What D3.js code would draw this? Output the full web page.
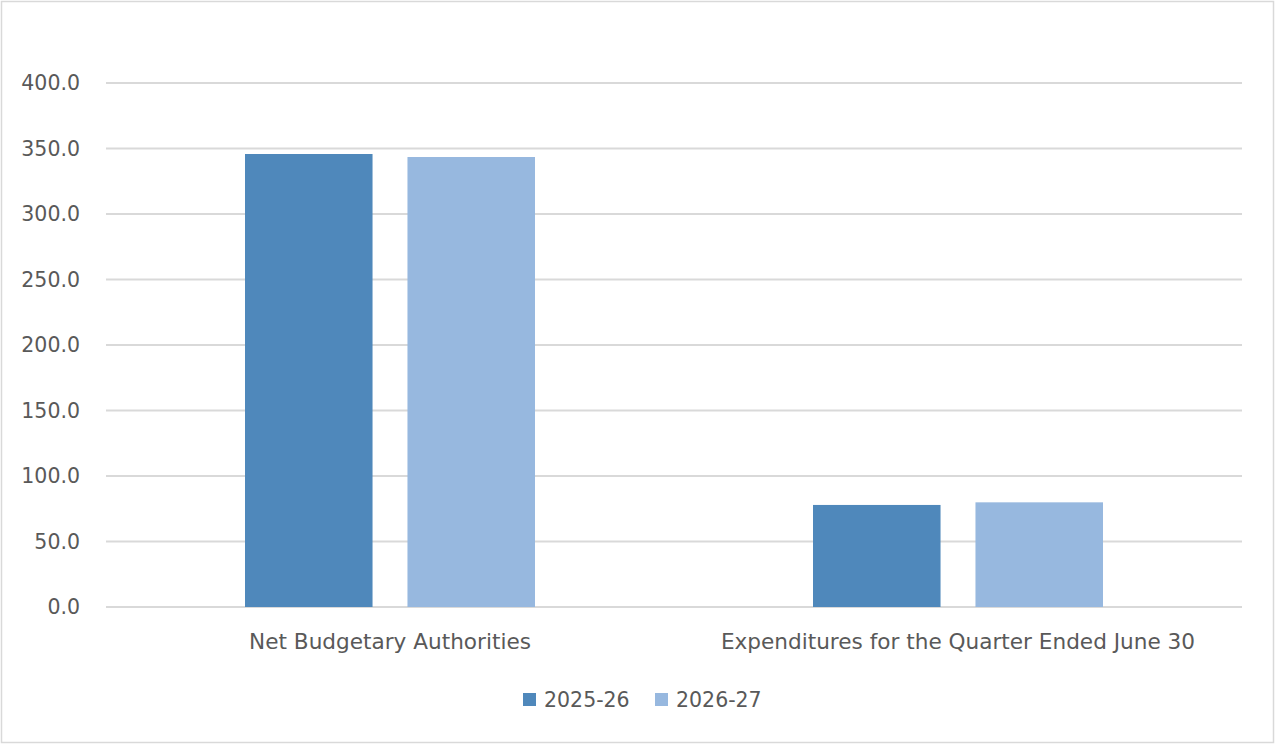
<!DOCTYPE html>
<html>
<head>
<meta charset="utf-8">
<script src="https://cdn.jsdelivr.net/npm/d3@7"></script>
<style>
  body { margin: 0; background: #fff; }
  svg text { font-family: "DejaVu Sans", sans-serif; fill: #595959; }
</style>
</head>
<body>
<svg width="1276" height="744"></svg>
<script>
// chart data
var categories = ["Net Budgetary Authorities", "Expenditures for the Quarter Ended June 30"];
var seriesNames = ["2025-26", "2026-27"];
var values2025 = [345.8, 77.9];
var values2026 = [343.5, 79.9];
var yTicks = [0, 50, 100, 150, 200, 250, 300, 350, 400];

var svg = d3.select("svg"),
    width = +svg.attr("width"),
    height = +svg.attr("height");

var colors = ["#4f88bb", "#97b8df"];
var margin = { left: 106, right: 34, top: 83, bottom: 137 };

// chart border
svg.append("rect")
   .attr("x", 1.5).attr("y", 1.5)
   .attr("width", width - 4).attr("height", height - 3)
   .attr("fill", "#fff")
   .attr("stroke", "#d9d9d9")
   .attr("stroke-width", 1.5);

var x0 = d3.scaleBand()
           .domain(categories)
           .range([margin.left, width - margin.right]);

var x1 = d3.scaleBand()
           .domain(seriesNames)
           .range([139, x0.bandwidth() - 139])
           .paddingInner(0.215);

var y = d3.scaleLinear()
          .domain([0, 400])
          .range([height - margin.bottom, margin.top]);

// gridlines
svg.append("g")
   .selectAll("line")
   .data(yTicks)
   .enter().append("line")
   .attr("x1", margin.left)
   .attr("x2", width - margin.right)
   .attr("y1", function(d) { return y(d); })
   .attr("y2", function(d) { return y(d); })
   .attr("stroke", "#d9d9d9")
   .attr("stroke-width", 2);

// y labels
svg.append("g")
   .selectAll("text")
   .data(yTicks)
   .enter().append("text")
   .attr("x", 80)
   .attr("y", function(d) { return y(d); })
   .attr("dy", "0.36em")
   .attr("text-anchor", "end")
   .style("font-size", "20.5px")
   .text(function(d) { return d3.format(".1f")(d); });

// bars
var rows = categories.map(function(c, i) {
  return { cat: c, vals: [values2025[i], values2026[i]] };
});

var group = svg.append("g")
   .selectAll("g")
   .data(rows)
   .enter().append("g")
   .attr("transform", function(d) { return "translate(" + x0(d.cat) + ",0)"; });

group.selectAll("rect")
     .data(function(d) { return d.vals.map(function(v, j) { return { name: seriesNames[j], value: v, j: j }; }); })
     .enter().append("rect")
     .attr("x", function(d) { return x1(d.name); })
     .attr("width", x1.bandwidth())
     .attr("y", function(d) { return y(d.value); })
     .attr("height", function(d) { return y(0) - y(d.value); })
     .attr("fill", function(d) { return colors[d.j]; });

// category labels
svg.append("g")
   .selectAll("text")
   .data(categories)
   .enter().append("text")
   .attr("x", function(d) { return x0(d) + x0.bandwidth() / 2; })
   .attr("y", 649)
   .attr("text-anchor", "middle")
   .style("font-size", "21.6px")
   .text(function(d) { return d; });

// legend
var legend = svg.append("g")
   .selectAll("g")
   .data(seriesNames)
   .enter().append("g")
   .attr("transform", function(d, i) { return "translate(" + (523 + i * 132) + ",693)"; });

legend.append("rect")
      .attr("width", 13).attr("height", 13)
      .attr("fill", function(d, i) { return colors[i]; });

legend.append("text")
      .attr("x", 21)
      .attr("y", 7)
      .attr("dy", "0.36em")
      .style("font-size", "20.5px")
      .text(function(d) { return d; });
</script>
</body>
</html>
